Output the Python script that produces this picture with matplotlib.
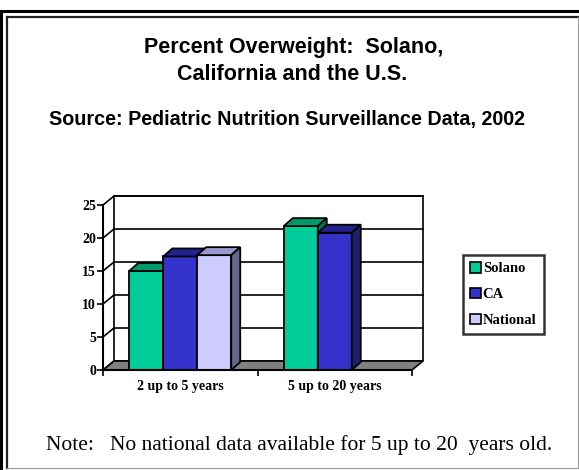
import matplotlib
matplotlib.use("Agg")
import matplotlib.pyplot as plt
from matplotlib.patches import Polygon, Patch
from matplotlib.lines import Line2D
import numpy as np

# datos del grafico
categorias = ["2 up to 5 years", "5 up to 20 years"]
series = ["Solano", "CA", "National"]
solano = [15.0, 21.8]
ca = [17.2, 20.8]
national = [17.4, np.nan]  # no hay dato nacional para 5-20
yticks = [0, 5, 10, 15, 20, 25]

# colores: frente, tapa, lado
colFrente = ["#00CC99", "#3333CC", "#CCCCFF"]
colTapa = ["#00996B", "#22228F", "#9999CC"]
colLado = ["#007A55", "#1F1F66", "#666688"]

W, H = 579, 470
fig = plt.figure(figsize=(W / 100, H / 100), dpi=100)

# marco exterior doble
def linea(x0, y0, x1, y1, color="black", lw=1.0):
    fig.add_artist(Line2D([x0 / W, x1 / W], [1 - y0 / H, 1 - y1 / H], color=color, lw=lw))

linea(1, 11, 579, 11, lw=2.2)
linea(1, 11, 1, 470, lw=2.2)
linea(7, 17, 579, 17, color="#222222", lw=1.6)
linea(7, 17, 7, 468, color="#222222", lw=1.6)
linea(578, 17, 578, 468, color="#999999", lw=0.8)
linea(7, 468, 578, 468, color="#999999", lw=0.8)

# titulos
fig.text(294 / W, 1 - 48 / H, "Percent Overweight:  Solano,", ha="center", va="center",
         fontsize=15.5, fontweight="bold", family="Liberation Sans")
fig.text(292 / W, 1 - 75 / H, "California and the U.S.", ha="center", va="center",
         fontsize=15.5, fontweight="bold", family="Liberation Sans")
fig.text(287 / W, 1 - 119 / H, "Source: Pediatric Nutrition Surveillance Data, 2002", ha="center",
         va="center", fontsize=14.2, fontweight="bold", family="Liberation Sans")
fig.text(299 / W, 1 - 445 / H, "Note:   No national data available for 5 up to 20  years old.",
         ha="center", va="center", fontsize=15.5, family="Liberation Serif")

# ejes (en pixeles)
pxX = 154.5  # pixeles por categoria
pxY = 6.6    # pixeles por unidad
axL, axR, axT, axB = 103, 430, 190, 370
ax = fig.add_axes([axL / W, 1 - axB / H, (axR - axL) / W, (axB - axT) / H])
ax.set_xlim(-0.5, -0.5 + (axR - axL) / pxX)
ax.set_ylim(0, (axB - axT) / pxY)
ax.patch.set_visible(False)

dxp, dyp = 11 / pxX, 9 / pxY    # profundidad de paredes
dxb, dyb = 9 / pxX, 8 / pxY     # profundidad de barras
x0, x1 = -0.5, 1.5
top = yticks[-1]

# pared del fondo
ax.add_patch(Polygon([(x0 + dxp, dyp), (x1 + dxp, dyp), (x1 + dxp, top + dyp), (x0 + dxp, top + dyp)],
                     closed=True, facecolor="white", edgecolor="black", lw=1.2, zorder=1))
for v in yticks[1:]:
    ax.plot([x0 + dxp, x1 + dxp], [v + dyp, v + dyp], color="black", lw=1.2, zorder=2)
    ax.plot([x0, x0 + dxp], [v, v + dyp], color="black", lw=1.2, zorder=2)
ax.plot([x0, x0 + dxp], [0, dyp], color="black", lw=1.2, zorder=2)

# piso
ax.add_patch(Polygon([(x0, 0), (x1, 0), (x1 + dxp, dyp), (x0 + dxp, dyp)], closed=True,
                     facecolor="#808080", edgecolor="black", lw=1.2, zorder=3))

# barras 3d
ancho = 0.22
valores = [solano, ca, national]
for g in range(len(categorias)):
    for s in range(len(series)):
        h = valores[s][g]
        if np.isnan(h):
            continue
        xl = g + (s - 1) * ancho - ancho / 2
        xr = xl + ancho
        z = 5 + g * 3 + s
        ax.bar(xl, h, width=ancho, align="edge", color=colFrente[s], edgecolor="black", lw=1.3, zorder=z)
        ax.add_patch(Polygon([(xl, h), (xr, h), (xr + dxb, h + dyb), (xl + dxb, h + dyb)], closed=True,
                             facecolor=colTapa[s], edgecolor="black", lw=1.3, zorder=z))
        ax.add_patch(Polygon([(xr, 0), (xr + dxb, dyb), (xr + dxb, h + dyb), (xr, h)], closed=True,
                             facecolor=colLado[s], edgecolor="black", lw=1.3, zorder=z))

# ejes y etiquetas
for lado in ["top", "right"]:
    ax.spines[lado].set_visible(False)
ax.spines["left"].set_bounds(0, top)
ax.spines["bottom"].set_bounds(x0, x1)
ax.spines["left"].set_linewidth(1.5)
ax.spines["bottom"].set_linewidth(1.5)
ax.spines["left"].set_zorder(20)
ax.spines["bottom"].set_zorder(20)
ax.set_yticks(yticks)
ax.set_yticklabels([str(v) for v in yticks], fontsize=10, fontweight="bold", family="Liberation Serif")
ax.tick_params(axis="y", length=4, width=1.2, pad=1)
ax.set_xticks([0, 1])
ax.set_xticklabels(categorias, fontsize=10, fontweight="bold", family="Liberation Serif")
ax.set_xticks([x0, 0.5, x1], minor=True)
ax.tick_params(axis="x", which="major", length=0, pad=7)
ax.tick_params(axis="x", which="minor", length=4, width=1.2)

# leyenda
manijas = [Patch(facecolor=colFrente[i], edgecolor="black", lw=1.2) for i in range(3)]
leg = fig.legend(manijas, series, loc="upper left", bbox_to_anchor=(463 / W, 1 - 255 / H),
                 frameon=True, fancybox=False, handlelength=0.7, handleheight=0.7,
                 handletextpad=0.15, labelspacing=0.85, borderpad=0.5, borderaxespad=0,
                 prop={"family": "Liberation Serif", "weight": "bold", "size": 10.5})
leg.get_frame().set_edgecolor("black")
leg.get_frame().set_linewidth(1.8)

fig.savefig("out.png", dpi=100)
